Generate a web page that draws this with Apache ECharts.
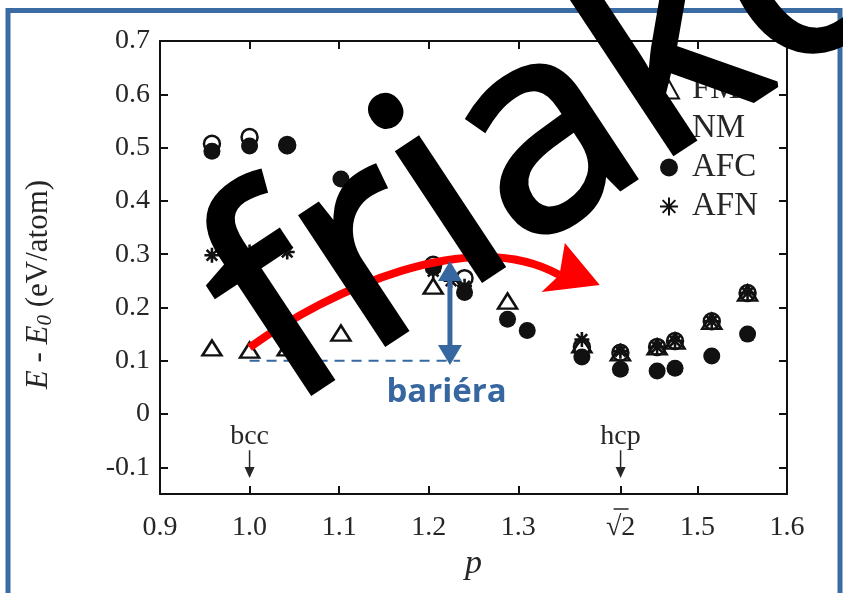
<!DOCTYPE html>
<html>
<head>
<meta charset="utf-8">
<script src="https://cdn.jsdelivr.net/npm/echarts@6/dist/echarts.min.js"></script>
<style>
  html, body { margin: 0; padding: 0; background: #fff; }
  #chart { width: 843px; height: 593px; }
</style>
</head>
<body>
<div id="chart"></div>
<script>
// Energy of the bcc -> hcp path, E - E0 (eV/atom) against the shape parameter p
const pFM  = [0.958, 1.0, 1.042, 1.102, 1.205, 1.288, 1.371, 1.414, 1.455, 1.475, 1.516, 1.556];
const eFM  = [0.124, 0.120, 0.124, 0.152, 0.240, 0.212, 0.130, 0.115, 0.126, 0.137, 0.174, 0.227];
const pNM  = [0.958, 1.0, 1.042, 1.205, 1.240, 1.371, 1.414, 1.455, 1.475, 1.516, 1.556];
const eNM  = [0.507, 0.520, 0.505, 0.280, 0.255, 0.126, 0.115, 0.126, 0.137, 0.174, 0.227];
const pAFC = [0.958, 1.0, 1.042, 1.102, 1.205, 1.240, 1.288, 1.310, 1.371, 1.414, 1.455, 1.475, 1.516, 1.556];
const eAFC = [0.493, 0.503, 0.503, 0.441, 0.275, 0.228, 0.178, 0.157, 0.107, 0.084, 0.081, 0.086, 0.109, 0.150];
const pAFN = [0.958, 1.0, 1.042, 1.205, 1.225, 1.240, 1.371, 1.414, 1.455, 1.475, 1.516, 1.556];
const eAFN = [0.298, 0.304, 0.304, 0.268, 0.250, 0.240, 0.140, 0.118, 0.126, 0.137, 0.174, 0.227];

const seriesNames = ['FM', 'NM', 'AFC', 'AFN'];
const xLabelValues = [0.9, 1.0, 1.1, 1.2, 1.3, Math.SQRT2, 1.5, 1.6];
const xTickValues  = [1.0, 1.1, 1.2, 1.3, Math.SQRT2, 1.5];
const yTickValues  = [-0.1, 0, 0.1, 0.2, 0.3, 0.4, 0.5, 0.6, 0.7];

// structure markers and the annotated transition path (in data units)
const bccP = 1.0, hcpP = Math.SQRT2;
const curveStart = [1.0, 0.125], curveCtrl1 = [1.090, 0.233], curveCtrl2 = [1.246, 0.355], curveEnd = [1.346, 0.261];
const headTop = [1.352, 0.321], headTip = [1.391, 0.242], headBottom = [1.326, 0.229];
const barrierP = 1.2237, barrierLow = 0.092, barrierHigh = 0.287;
const baseLevel = 0.1, baseFrom = 1.0, baseTo = 1.235;

const serif = '"Liberation Serif", "Times New Roman", serif';
const ink = '#111';
const textInk = '#262626';
const blue = '#3767a0';

const chart = echarts.init(document.getElementById('chart'));

const zip = (xs, ys) => xs.map((x, i) => [x, ys[i]]);
const asterisk = 'path://M5 0L5 10M0 5L10 5M1.46 1.46L8.54 8.54M8.54 1.46L1.46 8.54';

const isRoot2 = v => Math.abs(v - Math.SQRT2) < 1e-6;
const fmtX = v => isRoot2(v) ? '√2' : v.toFixed(1);
const fmtY = v => Math.abs(v) < 1e-9 ? '0' : v.toFixed(1);

const frameAxis = {
  axisLine: { show: true, onZero: false, lineStyle: { color: ink, width: 2 } },
  splitLine: { show: false }
};
const tickStyle = { color: ink, width: 2 };

chart.setOption({
  animation: false,
  backgroundColor: '#fff',
  grid: { left: 160, right: 56, top: 41, bottom: 99 },
  xAxis: [{
    type: 'value', min: 0.9, max: 1.6,
    ...frameAxis,
    axisTick: { show: true, inside: true, length: 8, customValues: xTickValues, lineStyle: tickStyle },
    axisLabel: { customValues: xLabelValues, formatter: fmtX, fontFamily: serif, fontSize: 28, color: textInk, margin: 20 },
    name: 'p', nameLocation: 'middle', nameGap: 53,
    nameTextStyle: { fontFamily: serif, fontStyle: 'italic', fontSize: 34, color: textInk }
  }, {
    type: 'value', min: 0.9, max: 1.6, position: 'top',
    ...frameAxis,
    axisTick: { show: true, inside: true, length: 8, customValues: xTickValues, lineStyle: tickStyle },
    axisLabel: { show: false }
  }],
  yAxis: [{
    type: 'value', min: -0.15, max: 0.7,
    ...frameAxis,
    axisTick: { show: true, inside: true, length: 8, customValues: yTickValues, lineStyle: tickStyle },
    axisLabel: { customValues: yTickValues, formatter: fmtY, fontFamily: serif, fontSize: 28, color: textInk, margin: 10 },
    name: '{i|E} - {i|E}{s|0} (eV/atom)', nameLocation: 'middle', nameGap: 104, nameRotate: 90,
    nameTextStyle: {
      fontFamily: serif, fontSize: 31, color: textInk, padding: [0, 34, 0, 0],
      rich: {
        i: { fontFamily: serif, fontStyle: 'italic', fontSize: 31, color: textInk },
        s: { fontFamily: serif, fontStyle: 'italic', fontSize: 21, color: textInk, padding: [14, 0, 0, 0], verticalAlign: 'bottom' }
      }
    }
  }, {
    type: 'value', min: -0.15, max: 0.7, position: 'right',
    ...frameAxis,
    axisTick: { show: true, inside: true, length: 8, customValues: yTickValues, lineStyle: tickStyle },
    axisLabel: { show: false }
  }],
  legend: {
    orient: 'vertical', left: 653, top: 68,
    itemWidth: 20, itemHeight: 18, itemGap: 6,
    data: seriesNames,
    textStyle: { fontFamily: serif, fontSize: 33, lineHeight: 30, color: textInk, padding: [0, 0, 0, 8] }
  },
  series: [
    { name: 'FM', type: 'scatter', data: zip(pFM, eFM), symbol: 'triangle', symbolSize: [19, 15],
      itemStyle: { color: 'rgba(0,0,0,0)', borderColor: ink, borderWidth: 2.5, opacity: 1 }, z: 2 },
    { name: 'NM', type: 'scatter', data: zip(pNM, eNM), symbol: 'circle', symbolSize: 16,
      itemStyle: { color: 'rgba(0,0,0,0)', borderColor: ink, borderWidth: 2.5, opacity: 1 }, z: 3 },
    { name: 'AFC', type: 'scatter', data: zip(pAFC, eAFC), symbol: 'circle', symbolSize: 17,
      itemStyle: { color: ink, borderWidth: 0, opacity: 1 }, z: 4 },
    { name: 'AFN', type: 'scatter', data: zip(pAFN, eAFN), symbol: asterisk, symbolSize: 15,
      itemStyle: { color: 'rgba(0,0,0,0)', borderColor: ink, borderWidth: 2.6, opacity: 1 }, z: 5 }
  ]
});

const px = (p, v) => chart.convertToPixel({ xAxisIndex: 0, yAxisIndex: 0 }, [p, v]);

function structureMark(label, p) {
  const t = px(p, -0.043);
  const a0 = px(p, -0.068), a1 = px(p, -0.12);
  return [
    { type: 'text', z: 50, x: t[0], y: t[1],
      style: { text: label, fontFamily: serif, fontSize: 28, fill: textInk, align: 'center', verticalAlign: 'middle' } },
    { type: 'line', z: 50, shape: { x1: a0[0], y1: a0[1], x2: a1[0], y2: a1[1] - 8 }, style: { stroke: textInk, lineWidth: 1.5 } },
    { type: 'polygon', z: 50, shape: { points: [[a1[0] - 5, a1[1] - 11], [a1[0] + 5, a1[1] - 11], [a1[0], a1[1]]] }, style: { fill: textInk } }
  ];
}

function drawAnnotations() {
  const c0 = px(...curveStart), c1 = px(...curveCtrl1), c2 = px(...curveCtrl2), c3 = px(...curveEnd);
  const hT = px(...headTop), hTip = px(...headTip), hB = px(...headBottom);
  const bLow = px(barrierP, barrierLow), bHigh = px(barrierP, barrierHigh);
  const d0 = px(baseFrom, baseLevel), d1 = px(baseTo, baseLevel);
  const lab = px(1.22, 0.04);
  const wm = px(0.991, 0.136);
  // vinculum over the "2" of the sqrt(2) tick label
  const r2 = px(hcpP, -0.15);

  const elements = [
    // page frame
    { type: 'rect', z: 1, shape: { x: 8, y: 10.5, width: 832, height: 640 },
      style: { fill: 'none', stroke: '#3b6ba3', lineWidth: 5 } },
    { type: 'line', z: 50, shape: { x1: r2[0] - 7, y1: r2[1] + 15, x2: r2[0] + 8, y2: r2[1] + 15 },
      style: { stroke: textInk, lineWidth: 1.5 } },
    ...structureMark('bcc', bccP),
    ...structureMark('hcp', hcpP),
    // transition path
    { type: 'bezierCurve', z: 60,
      shape: { x1: c0[0], y1: c0[1], cpx1: c1[0], cpy1: c1[1], cpx2: c2[0], cpy2: c2[1], x2: c3[0], y2: c3[1] },
      style: { stroke: '#ff0000', lineWidth: 8, fill: 'none' } },
    { type: 'polygon', z: 60, shape: { points: [hT, hTip, hB, c3] }, style: { fill: '#ff0000' } },
    // barrier height
    { type: 'line', z: 61, shape: { x1: d0[0], y1: d0[1], x2: d1[0], y2: d1[1] },
      style: { stroke: blue, lineWidth: 2, lineDash: [10, 7] } },
    { type: 'line', z: 61, shape: { x1: bLow[0], y1: bLow[1] - 14, x2: bHigh[0], y2: bHigh[1] + 14 },
      style: { stroke: blue, lineWidth: 5 } },
    { type: 'polygon', z: 61, shape: { points: [[bHigh[0], bHigh[1]], [bHigh[0] - 12, bHigh[1] + 20], [bHigh[0] + 12, bHigh[1] + 20]] }, style: { fill: blue } },
    { type: 'polygon', z: 61, shape: { points: [[bLow[0], bLow[1]], [bLow[0] - 12, bLow[1] - 20], [bLow[0] + 12, bLow[1] - 20]] }, style: { fill: blue } },
    { type: 'text', z: 61, x: lab[0], y: lab[1],
      style: { text: 'bariéra', fontFamily: '"Open Sans", sans-serif', fontWeight: 'bold', fontSize: 33, fill: blue, align: 'center', verticalAlign: 'middle' } },
    // overprinted lettering
    { type: 'text', z: 200, x: wm[0], y: wm[1], rotation: 33.5 * Math.PI / 180,
      style: { text: 'friako', fontFamily: '"Open Sans", sans-serif', fontWeight: 'normal', fontSize: 284,
               fill: '#000', stroke: '#000', lineWidth: 6, lineJoin: 'round', align: 'left', verticalAlign: 'middle' } }
  ];
  chart.setOption({ graphic: { elements } });
}
drawAnnotations();
</script>
</body>
</html>
